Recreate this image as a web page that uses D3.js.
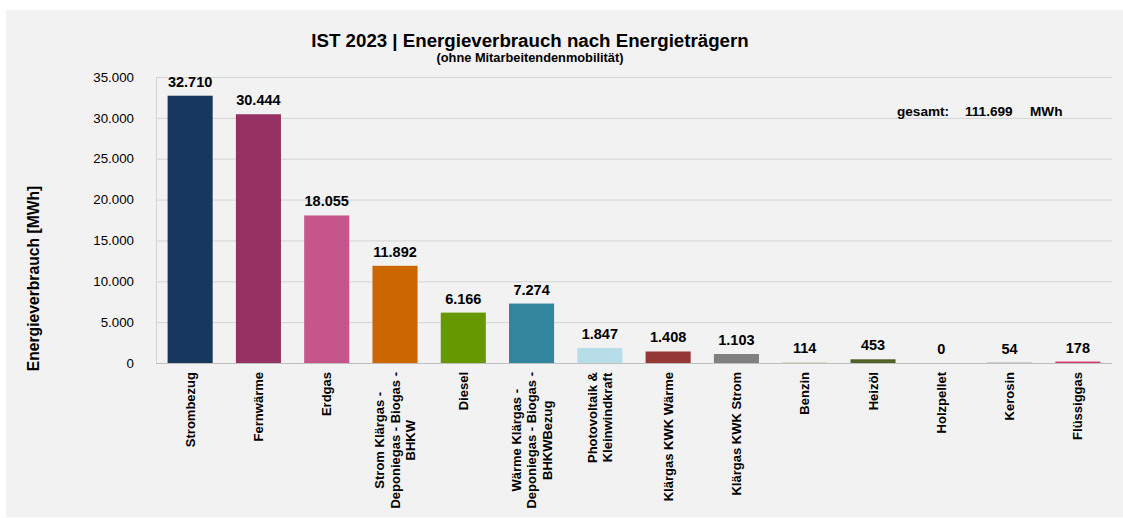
<!DOCTYPE html>
<html><head><meta charset="utf-8">
<script src="https://cdn.jsdelivr.net/npm/d3@7/dist/d3.min.js"></script>
<style>
html,body{margin:0;padding:0;background:#fff;}
text{font-family:"Liberation Sans",Arial,sans-serif;}
</style></head>
<body><svg id="chart" width="1123" height="518"></svg>
<script>
const categories = [
  ["Strombezug"],
  ["Fernwärme"],
  ["Erdgas"],
  ["Strom Klärgas -", "Deponiegas - Biogas -", "BHKW"],
  ["Diesel"],
  ["Wärme Klärgas -", "Deponiegas - Biogas -", "BHKWBezug"],
  ["Photovoltaik &", "Kleinwindkraft"],
  ["Klärgas KWK Wärme"],
  ["Klärgas KWK Strom"],
  ["Benzin"],
  ["Heizöl"],
  ["Holzpellet"],
  ["Kerosin"],
  ["Flüssiggas"]
];
const values = [32710, 30444, 18055, 11892, 6166, 7274, 1847, 1408, 1103, 114, 453, 0, 54, 178];
const colors = ["#17375e", "#953163", "#c6558c", "#cc6600", "#669900", "#31859c", "#b7dee8", "#953735", "#808080", "#ddd9c3", "#4f6228", "#7f7f7f", "#a6a6a6", "#d9386b"];
const yTicks = [0, 5000, 10000, 15000, 20000, 25000, 30000, 35000];
const titleText = "IST 2023 | Energieverbrauch nach Energieträgern";
const subtitleText = "(ohne Mitarbeitendenmobilität)";
const totalParts = ["gesamt:", "111.699", "MWh"];
const yLabel = "Energieverbrauch [MWh]";

const svg = d3.select("#chart");
const fmt = v => d3.format(",")(v).replace(/,/g, ".");

svg.append("rect").attr("x", 6).attr("y", 10).attr("width", 1117).attr("height", 507).attr("fill", "#f2f2f2");

const m = {left: 156, right: 1112, top: 77, bottom: 363};
const x = d3.scaleBand().domain(d3.range(categories.length)).range([m.left, m.right]).paddingInner(0.34).paddingOuter(0.17);
const y = d3.scaleLinear().domain([0, 35000]).range([m.bottom, m.top]);

// gridlines
svg.append("g").selectAll("line").data(yTicks).join("line")
  .attr("x1", m.left).attr("x2", m.right)
  .attr("y1", d => y(d) + 0.5).attr("y2", d => y(d) + 0.5)
  .attr("stroke", d => d === 0 ? "#bfbfbf" : "#d4d4d4").attr("stroke-width", 1);
svg.append("line").attr("x1", m.left + 0.5).attr("x2", m.left + 0.5).attr("y1", m.top).attr("y2", m.bottom)
  .attr("stroke", "#d4d4d4");

// y axis labels
const yAxis = d3.axisLeft(y).tickValues(yTicks).tickFormat(fmt).tickSize(0).tickPadding(22);
const gy = svg.append("g").attr("transform", `translate(${m.left},0)`).call(yAxis);
gy.select(".domain").remove();
gy.selectAll("text").attr("font-size", 13.3).attr("fill", "#000").attr("font-family", '"Liberation Sans",Arial,sans-serif');

// bars
svg.append("g").selectAll("rect").data(values).join("rect")
  .attr("x", (d, i) => x(i)).attr("width", x.bandwidth())
  .attr("y", d => y(d)).attr("height", d => y(0) - y(d))
  .attr("fill", (d, i) => colors[i]);

// value labels
svg.append("g").selectAll("text").data(values).join("text")
  .attr("x", (d, i) => x(i) + x.bandwidth() / 2)
  .attr("y", d => y(d) - 9)
  .attr("text-anchor", "middle").attr("font-weight", "bold").attr("font-size", 14.5)
  .text(d => fmt(d));

// x labels
const topY = 372;
const lineH = 15.5;
categories.forEach((lines, i) => {
  const cx = x(i) + x.bandwidth() / 2;
  const g = svg.append("g");
  const t = g.append("text").attr("font-weight", "bold").attr("font-size", 13).attr("text-anchor", "middle");
  lines.forEach((l, k) => {
    t.append("tspan").attr("x", 0).attr("dy", k === 0 ? 0 : lineH).text(l);
  });
  let maxW = 0;
  t.selectAll("tspan").each(function () { maxW = Math.max(maxW, this.getComputedTextLength()); });
  const n = lines.length;
  const shift = -((n - 1) * lineH) / 2 + 4.5;
  t.attr("y", 0);
  t.selectAll("tspan").attr("x", -(topY + maxW / 2));
  t.select("tspan").attr("dy", shift);
  g.attr("transform", `translate(${cx},0) rotate(-90)`);
});

// titles
svg.append("text").attr("x", 530).attr("y", 47).attr("text-anchor", "middle")
  .attr("font-weight", "bold").attr("font-size", 18.7).text(titleText);
svg.append("text").attr("x", 530).attr("y", 62).attr("text-anchor", "middle")
  .attr("font-weight", "bold").attr("font-size", 12.8).text(subtitleText);
const totalX = [897, 965, 1030];
const tt = svg.append("text").attr("y", 116).attr("font-weight", "bold").attr("font-size", 13.6);
totalParts.forEach((p, k) => tt.append("tspan").attr("x", totalX[k]).text(p));
svg.append("text").attr("transform", "translate(39,278.5) rotate(-90)").attr("text-anchor", "middle")
  .attr("font-weight", "bold").attr("font-size", 15.7).text(yLabel);
</script></body></html>
